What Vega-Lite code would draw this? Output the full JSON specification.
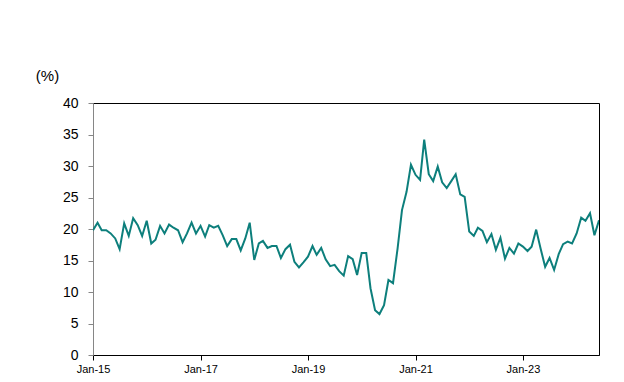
{
  "$schema": "https://vega.github.io/schema/vega-lite/v6.json",
  "width": 506,
  "height": 252,
  "autosize": "none",
  "padding": {"left": 93, "top": 103, "right": 25, "bottom": 27},
  "background": "#ffffff",
  "config": {
    "view": {"stroke": "#000000", "strokeWidth": 1},
    "font": "Liberation Sans"
  },
  "data": {
    "values": [
      {"date": "2015-01-01", "v": 19.8}, {"date": "2015-02-01", "v": 21.0}, {"date": "2015-03-01", "v": 19.8}, {"date": "2015-04-01", "v": 19.8},
      {"date": "2015-05-01", "v": 19.3}, {"date": "2015-06-01", "v": 18.5}, {"date": "2015-07-01", "v": 16.8}, {"date": "2015-08-01", "v": 20.9},
      {"date": "2015-09-01", "v": 18.9}, {"date": "2015-10-01", "v": 21.7}, {"date": "2015-11-01", "v": 20.6}, {"date": "2015-12-01", "v": 18.9},
      {"date": "2016-01-01", "v": 21.3}, {"date": "2016-02-01", "v": 17.7}, {"date": "2016-03-01", "v": 18.3}, {"date": "2016-04-01", "v": 20.5},
      {"date": "2016-05-01", "v": 19.3}, {"date": "2016-06-01", "v": 20.7}, {"date": "2016-07-01", "v": 20.2}, {"date": "2016-08-01", "v": 19.8},
      {"date": "2016-09-01", "v": 17.9}, {"date": "2016-10-01", "v": 19.3}, {"date": "2016-11-01", "v": 21.0}, {"date": "2016-12-01", "v": 19.3},
      {"date": "2017-01-01", "v": 20.5}, {"date": "2017-02-01", "v": 18.8}, {"date": "2017-03-01", "v": 20.6}, {"date": "2017-04-01", "v": 20.2},
      {"date": "2017-05-01", "v": 20.5}, {"date": "2017-06-01", "v": 19.0}, {"date": "2017-07-01", "v": 17.3}, {"date": "2017-08-01", "v": 18.4},
      {"date": "2017-09-01", "v": 18.4}, {"date": "2017-10-01", "v": 16.6}, {"date": "2017-11-01", "v": 18.5}, {"date": "2017-12-01", "v": 21.0},
      {"date": "2018-01-01", "v": 15.1}, {"date": "2018-02-01", "v": 17.7}, {"date": "2018-03-01", "v": 18.1}, {"date": "2018-04-01", "v": 17.0},
      {"date": "2018-05-01", "v": 17.3}, {"date": "2018-06-01", "v": 17.3}, {"date": "2018-07-01", "v": 15.4}, {"date": "2018-08-01", "v": 16.8},
      {"date": "2018-09-01", "v": 17.5}, {"date": "2018-10-01", "v": 14.8}, {"date": "2018-11-01", "v": 13.9}, {"date": "2018-12-01", "v": 14.7},
      {"date": "2019-01-01", "v": 15.6}, {"date": "2019-02-01", "v": 17.3}, {"date": "2019-03-01", "v": 15.9}, {"date": "2019-04-01", "v": 17.0},
      {"date": "2019-05-01", "v": 15.2}, {"date": "2019-06-01", "v": 14.1}, {"date": "2019-07-01", "v": 14.3}, {"date": "2019-08-01", "v": 13.3},
      {"date": "2019-09-01", "v": 12.6}, {"date": "2019-10-01", "v": 15.7}, {"date": "2019-11-01", "v": 15.2}, {"date": "2019-12-01", "v": 12.7},
      {"date": "2020-01-01", "v": 16.2}, {"date": "2020-02-01", "v": 16.2}, {"date": "2020-03-01", "v": 10.6}, {"date": "2020-04-01", "v": 7.1},
      {"date": "2020-05-01", "v": 6.5}, {"date": "2020-06-01", "v": 7.9}, {"date": "2020-07-01", "v": 11.9}, {"date": "2020-08-01", "v": 11.4},
      {"date": "2020-09-01", "v": 16.9}, {"date": "2020-10-01", "v": 23.0}, {"date": "2020-11-01", "v": 25.9}, {"date": "2020-12-01", "v": 30.2},
      {"date": "2021-01-01", "v": 28.6}, {"date": "2021-02-01", "v": 27.8}, {"date": "2021-03-01", "v": 34.2}, {"date": "2021-04-01", "v": 28.7},
      {"date": "2021-05-01", "v": 27.6}, {"date": "2021-06-01", "v": 29.9}, {"date": "2021-07-01", "v": 27.4}, {"date": "2021-08-01", "v": 26.5},
      {"date": "2021-09-01", "v": 27.6}, {"date": "2021-10-01", "v": 28.7}, {"date": "2021-11-01", "v": 25.5}, {"date": "2021-12-01", "v": 25.1},
      {"date": "2022-01-01", "v": 19.6}, {"date": "2022-02-01", "v": 18.9}, {"date": "2022-03-01", "v": 20.2}, {"date": "2022-04-01", "v": 19.7},
      {"date": "2022-05-01", "v": 17.9}, {"date": "2022-06-01", "v": 19.2}, {"date": "2022-07-01", "v": 16.7}, {"date": "2022-08-01", "v": 18.6},
      {"date": "2022-09-01", "v": 15.3}, {"date": "2022-10-01", "v": 17.0}, {"date": "2022-11-01", "v": 16.1}, {"date": "2022-12-01", "v": 17.7},
      {"date": "2023-01-01", "v": 17.2}, {"date": "2023-02-01", "v": 16.5}, {"date": "2023-03-01", "v": 17.2}, {"date": "2023-04-01", "v": 19.9},
      {"date": "2023-05-01", "v": 16.9}, {"date": "2023-06-01", "v": 14.0}, {"date": "2023-07-01", "v": 15.4}, {"date": "2023-08-01", "v": 13.5},
      {"date": "2023-09-01", "v": 16.0}, {"date": "2023-10-01", "v": 17.6}, {"date": "2023-11-01", "v": 18.0}, {"date": "2023-12-01", "v": 17.7},
      {"date": "2024-01-01", "v": 19.3}, {"date": "2024-02-01", "v": 21.8}, {"date": "2024-03-01", "v": 21.3}, {"date": "2024-04-01", "v": 22.5},
      {"date": "2024-05-01", "v": 19.0}, {"date": "2024-06-01", "v": 21.4}
    ]
  },
  "mark": {"type": "line", "color": "#0d7f7c", "strokeWidth": 2, "clip": true},
  "encoding": {
    "x": {
      "field": "date",
      "type": "temporal",
      "scale": {
        "type": "utc",
        "domain": [
          {"year": 2015, "month": 1, "date": 1, "utc": true},
          {"year": 2024, "month": 6, "date": 1, "utc": true}
        ]
      },
      "axis": {
        "title": null,
        "values": [
          {"year": 2015, "month": 1, "date": 1, "utc": true},
          {"year": 2017, "month": 1, "date": 1, "utc": true},
          {"year": 2019, "month": 1, "date": 1, "utc": true},
          {"year": 2021, "month": 1, "date": 1, "utc": true},
          {"year": 2023, "month": 1, "date": 1, "utc": true}
        ],
        "format": "%b-%y",
        "grid": false,
        "domainColor": "#000000",
        "domainWidth": 1,
        "tickColor": "#000000",
        "tickSize": 5,
        "labelFont": "Liberation Sans",
        "labelFontSize": 11,
        "labelColor": "#000000",
        "labelPadding": 3,
        "labelFlush": false
      }
    },
    "y": {
      "field": "v",
      "type": "quantitative",
      "scale": {"domain": [0, 40], "nice": false},
      "axis": {
        "title": "(%)",
        "titleAngle": 0,
        "titleX": -46,
        "titleY": -28,
        "titleAlign": "center",
        "titleBaseline": "middle",
        "titleFont": "Liberation Sans",
        "titleFontSize": 15,
        "titleFontWeight": "normal",
        "titleColor": "#000000",
        "values": [0, 5, 10, 15, 20, 25, 30, 35, 40],
        "grid": false,
        "domainColor": "#868686",
        "tickColor": "#868686",
        "tickSize": 5,
        "labelFont": "Liberation Sans",
        "labelFontSize": 14,
        "labelColor": "#000000",
        "labelPadding": 10
      }
    }
  }
}
